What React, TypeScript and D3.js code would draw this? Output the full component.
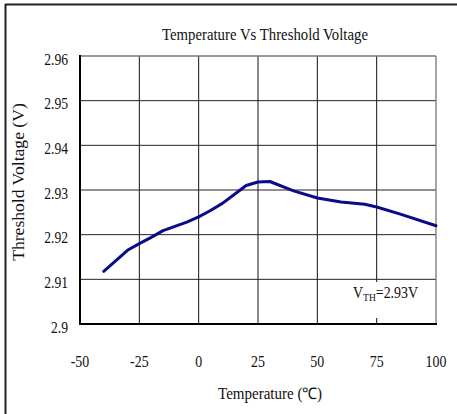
import React from "react";
import * as d3 from "d3";

const temps = [-40, -30, -25, -20, -15, -5, 0, 5, 10, 15, 20, 25, 30, 40, 50, 60, 70, 75, 85, 100];
const volts = [2.9118, 2.9165, 2.918, 2.9194, 2.9209, 2.9228, 2.924, 2.9254, 2.927, 2.929, 2.931, 2.9318, 2.9319, 2.9298, 2.9282, 2.9273, 2.9268, 2.9262, 2.9246, 2.922];
const xTicks = [-50, -25, 0, 25, 50, 75, 100];
const yTicks = [2.9, 2.91, 2.92, 2.93, 2.94, 2.95, 2.96];
const yTickLabels = ["2.9", "2.91", "2.92", "2.93", "2.94", "2.95", "2.96"];

const W = 457;
const H = 414;
const FONT = "'Liberation Serif', 'Times New Roman', serif";

function T({ x, y, size, anchor = "start", children, rotate = 0, sx = 0.87 }: any) {
  return (
    <g transform={`translate(${x},${y}) rotate(${rotate}) scale(${sx},1)`}>
      <text x={0} y={0} style={{ fontFamily: FONT, fontSize: size }} textAnchor={anchor} fill="#111">
        {children}
      </text>
    </g>
  );
}

export default function App() {
  const x = d3.scaleLinear().domain([-50, 100]).range([80, 436]);
  const y = d3.scaleLinear().domain([2.9, 2.96]).range([324, 56]);
  const line = d3
    .line<number>()
    .x((_, i) => x(temps[i]))
    .y((d) => y(d));

  return (
    <svg
      width={W}
      height={H}
      style={{ position: "absolute", left: 0, top: 0, background: "#fff" }}
    >
      <rect x={0} y={0} width={W} height={H} fill="#fff" />
      {/* outer frame */}
      <line x1={5.5} y1={4} x2={5.5} y2={H} stroke="#222" strokeWidth={2} />
      <line x1={5} y1={4.5} x2={W} y2={4.5} stroke="#222" strokeWidth={2} />

      <T x={265} y={40} size={17} anchor="middle">Temperature Vs Threshold Voltage</T>

      {/* grid */}
      {xTicks.slice(1, -1).map((t) => (
        <line key={"vx" + t} x1={x(t)} x2={x(t)} y1={y(2.96)} y2={y(2.9)} stroke="#111" strokeWidth={1} />
      ))}
      {yTicks.slice(1, -1).map((t) => (
        <line key={"hy" + t} x1={x(-50)} x2={x(100)} y1={y(t)} y2={y(t)} stroke="#222" strokeWidth={1} />
      ))}
      <line x1={x(-50)} x2={x(100)} y1={y(2.96)} y2={y(2.96)} stroke="#777" strokeWidth={1.3} />
      <line x1={x(100)} x2={x(100)} y1={y(2.96)} y2={y(2.9)} stroke="#777" strokeWidth={1.3} />

      {/* annotation box */}
      <rect x={346} y={282} width={88} height={36} fill="#fff" />
      <g transform={`translate(353,298) scale(0.87,1)`}>
        <text x={0} y={0} style={{ fontFamily: FONT, fontSize: 16 }} fill="#111">
          V<tspan style={{ fontSize: 11 }} dy={3}>TH</tspan>
          <tspan dy={-3}>=2.93V</tspan>
        </text>
      </g>

      {/* axes */}
      <line x1={x(-50)} x2={x(-50)} y1={y(2.96) - 1} y2={y(2.9) + 1} stroke="#000" strokeWidth={2} />
      <line x1={x(-50)} x2={x(100) + 1} y1={y(2.9)} y2={y(2.9)} stroke="#000" strokeWidth={2} />

      {/* data line */}
      <path d={line(volts) || ""} fill="none" stroke="#0b0b8a" strokeWidth={3} strokeLinejoin="round" strokeLinecap="round" />

      {/* y tick labels */}
      {yTicks.map((t, i) => (
        <T key={"yl" + t} x={68} y={y(t) + 8.5} size={17} sx={0.8} anchor="end">{yTickLabels[i]}</T>
      ))}
      {/* x tick labels */}
      {xTicks.map((t) => (
        <T key={"xl" + t} x={x(t)} y={367} size={17} sx={0.82} anchor="middle">{String(t)}</T>
      ))}

      <T x={270} y={399} size={16} sx={0.94} anchor="middle">Temperature (℃)</T>
      <T x={24} y={182} size={16} sx={1.1} anchor="middle" rotate={-90}>Threshold Voltage (V)</T>
    </svg>
  );
}
